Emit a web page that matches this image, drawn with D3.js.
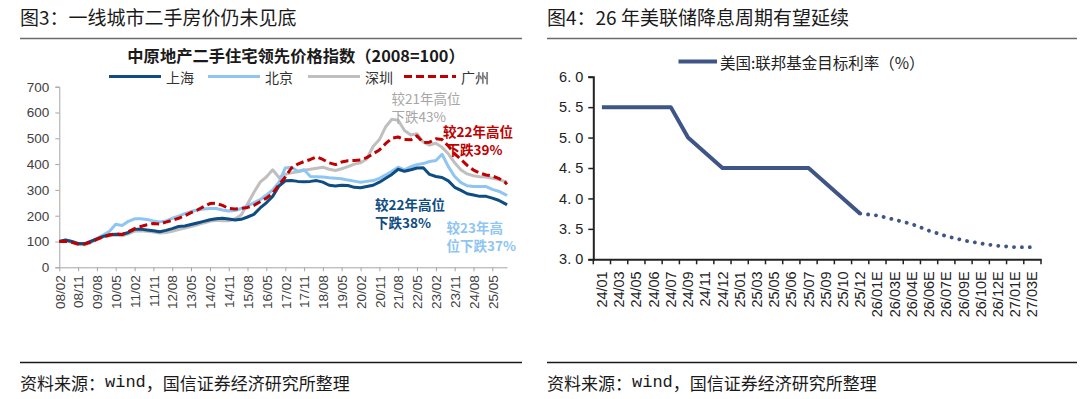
<!DOCTYPE html>
<html>
<head>
<meta charset="utf-8">
<script src="https://cdn.jsdelivr.net/npm/d3@7"></script>
<style>
body { margin: 0; background: #fff; }
svg { display: block; font-family: "Noto Sans CJK SC", "Noto Sans", sans-serif; }
</style>
</head>
<body>
<svg id="chart" width="1080" height="399"></svg>
<script>
// ---- left chart: 中原地产二手住宅领先价格指数 (quarterly readings) ----
var months = [
  "08/02","08/05","08/08","08/11","09/02","09/05","09/08","09/11",
  "10/02","10/05","10/08","10/11","11/02","11/05","11/08","11/11",
  "12/02","12/05","12/08","12/11","13/02","13/05","13/08","13/11",
  "14/02","14/05","14/08","14/11","15/02","15/05","15/08","15/11",
  "16/02","16/05","16/08","16/11","17/02","17/05","17/08","17/11",
  "18/02","18/05","18/08","18/11","19/02","19/05","19/08","19/11",
  "20/02","20/05","20/08","20/11","21/02","21/05","21/08","21/11",
  "22/02","22/05","22/08","22/11","23/02","23/05","23/08","23/11",
  "24/02","24/05","24/08","24/11","25/02","25/05","25/08","25/11","25/12"];

var shanghai = [100,106,100,92, 91,100,110,120, 126,128,127,135, 147,148,145,142,
  138,143,150,158, 160,166,172,178, 184,188,190,187, 183,186,195,205,
  230,250,275,315, 335,336,333,332, 333,336,330,318, 315,318,317,310,
  308,313,318,330, 345,360,380,372, 378,385,386,360, 352,348,335,310,
  298,285,280,275, 275,268,260,247,242];

var beijing = [100,105,100,93, 92,100,112,125, 140,167,162,178, 188,188,185,180,
  176,180,190,198, 208,216,222,226, 228,228,222,218, 220,228,238,250,
  262,280,300,330, 385,388,372,378, 352,351,350,347, 345,343,338,334,
  330,333,336,345, 358,372,388,378, 390,398,402,410, 414,438,390,352,
  328,316,313,313, 313,302,295,283,278];

var shenzhen = [100,103,97,88, 87,95,108,118, 122,125,122,130, 140,142,140,137,
  133,135,140,146, 152,158,165,172, 178,182,180,180, 188,203,245,290,
  330,350,378,348, 360,366,370,376, 380,384,388,380, 375,382,390,400,
  405,420,468,495, 545,574,570,530, 513,518,485,474, 481,465,440,405,
  377,362,355,351, 350,345,340,333,330];

var guangzhou = [100,101,97,90, 90,98,108,118, 125,130,127,138, 150,158,165,170,
  168,175,182,190, 200,212,222,235, 247,248,240,228, 226,228,232,240,
  254,268,287,320, 350,385,400,410, 418,428,418,405, 398,408,413,414,
  416,425,440,455, 480,500,505,495, 494,510,483,485, 498,495,470,440,
  418,395,377,365, 358,354,345,330,322];

var monthTicks = ["08/02","08/11","09/08","10/05","11/02","11/11","12/08","13/05",
  "14/02","14/11","15/08","16/05","17/02","17/11","18/08","19/05","20/02","20/11",
  "21/08","22/05","23/02","23/11","24/08","25/05"];
var indexTicks = [0, 100, 200, 300, 400, 500, 600, 700];

// ---- right chart: 美国:联邦基金目标利率 ----
var fedMonths = ["24/01","24/03","24/05","24/06","24/07","24/09","24/11","24/12",
  "25/01","25/03","25/05","25/06","25/07","25/09","25/10","25/12",
  "26/01E","26/03E","26/04E","26/06E","26/07E","26/09E","26/10E","26/12E","27/01E","27/03E"];
var fedActual = [5.5,5.5,5.5,5.5,5.5,5.0,4.75,4.5, 4.5,4.5,4.5,4.5,4.5,4.25,4.0,3.75];
var fedForecast = [3.72,3.65,3.58,3.47,3.38,3.31,3.26,3.22,3.2,3.2];
var rateTicks = [3.0, 3.5, 4.0, 4.5, 5.0, 5.5, 6.0];

var svg = d3.select("#chart");

// ---- titles, rules, sources ----
function panelFrame(x0, x1, title) {
    svg.append("text")
        .attr("x", x0).attr("y", 16)
        .attr("dominant-baseline", "central")
        .style("font-size", "19px").style("fill", "#1a1a1a")
        .text(title);
    svg.append("line")
        .attr("x1", x0).attr("x2", x1).attr("y1", 38.5).attr("y2", 38.5)
        .style("stroke", "#6b6b6b").style("stroke-width", 1.5);
    svg.append("line")
        .attr("x1", x0).attr("x2", x1).attr("y1", 362.5).attr("y2", 362.5)
        .style("stroke", "#1a1a1a").style("stroke-width", 1.5);
    var src = svg.append("text")
        .attr("x", x0).attr("y", 382)
        .attr("dominant-baseline", "central")
        .style("font-size", "17px").style("fill", "#1a1a1a");
    src.append("tspan").text("资料来源：");
    src.append("tspan").style("font-family", "'Liberation Mono', monospace").text("wind");
    src.append("tspan").text("，国信证券经济研究所整理");
}
panelFrame(20, 522, "图3：一线城市二手房价仍未见底");
panelFrame(547, 1077, "图4：26 年美联储降息周期有望延续");

// ---- left chart ----
var parse = d3.timeParse("%y/%m");
var x = d3.scaleTime()
    .domain([parse(months[0]), parse(months[months.length - 1])])
    .range([59.3, 507]);
var y = d3.scaleLinear().domain([0, 700]).range([267.3, 86.7]);

svg.append("text")
    .attr("x", 296).attr("y", 55)
    .attr("text-anchor", "middle").attr("dominant-baseline", "central")
    .style("font-size", "16.3px").style("font-weight", "bold").style("fill", "#1a1a1a")
    .text("中原地产二手住宅领先价格指数（2008=100）");

var yAxisL = svg.append("g")
    .attr("transform", "translate(59.3,0)")
    .call(d3.axisLeft(y).tickValues(indexTicks).tickSize(4).tickPadding(6));
var xAxisL = svg.append("g")
    .attr("transform", "translate(0,267.3)")
    .call(d3.axisBottom(x).tickValues(monthTicks.map(parse))
        .tickFormat(d3.timeFormat("%y/%m")).tickSize(4).tickSizeOuter(0));
xAxisL.selectAll("text")
    .attr("transform", "rotate(-90)")
    .attr("text-anchor", "end")
    .attr("x", -8).attr("y", 0).attr("dy", "0.35em");
[yAxisL, xAxisL].forEach(function(g) {
    g.select(".domain").style("stroke", "#a6a6a6");
    g.selectAll(".tick line").style("stroke", "#a6a6a6");
    g.selectAll("text").style("font-size", "13.5px").style("fill", "#404040")
        .style("font-family", "'Liberation Sans', Arial, sans-serif");
});

var cityLine = d3.line()
    .x(function(d, i) { return x(parse(months[i])); })
    .y(function(d) { return y(d); });

var cities = [
    {name: "上海", values: shanghai, color: "#0f4c81", dash: null},
    {name: "北京", values: beijing, color: "#8fc5f2", dash: null},
    {name: "深圳", values: shenzhen, color: "#bfbfbf", dash: null},
    {name: "广州", values: guangzhou, color: "#c00000", dash: "8,4"}
];
var drawOrder = [2, 1, 0, 3];
drawOrder.forEach(function(k) {
    var c = cities[k];
    svg.append("path")
        .datum(c.values)
        .attr("d", cityLine)
        .style("fill", "none")
        .style("stroke", c.color)
        .style("stroke-width", 3)
        .style("stroke-linejoin", "round")
        .style("stroke-dasharray", c.dash);
});

// legend
var legendX = [109, 208, 308, 404];
cities.forEach(function(c, i) {
    svg.append("line")
        .attr("x1", legendX[i]).attr("x2", legendX[i] + 52)
        .attr("y1", 76.5).attr("y2", 76.5)
        .style("stroke", c.color).style("stroke-width", 3)
        .style("stroke-dasharray", c.dash);
    svg.append("text")
        .attr("x", legendX[i] + 57).attr("y", 76.5)
        .attr("dominant-baseline", "central")
        .style("font-size", "14px").style("fill", "#333")
        .text(c.name);
});

// annotations
var notes = [
    {lines: ["较21年高位", "下跌43%"], x: [391.5, 391.5], y: [98, 116], color: "#a6a6a6", weight: "normal"},
    {lines: ["较22年高位", "下跌39%"], x: [443, 446.5], y: [130.5, 148.5], color: "#c00000", weight: "bold"},
    {lines: ["较22年高位", "下跌38%"], x: [375, 375], y: [203.5, 221.5], color: "#0f4c81", weight: "bold"},
    {lines: ["较23年高", "位下跌37%"], x: [446.5, 446.5], y: [227, 245], color: "#8fc5f2", weight: "bold"}
];
notes.forEach(function(n) {
    n.lines.forEach(function(t, i) {
        svg.append("text")
            .attr("x", n.x[i]).attr("y", n.y[i])
            .attr("dominant-baseline", "central")
            .style("font-size", "13.5px").style("font-weight", n.weight)
            .style("fill", n.color)
            .text(t);
    });
});

// ---- right chart ----
var xr = d3.scaleBand().domain(fedMonths).range([593.3, 1041]);
var yr = d3.scaleLinear().domain([3, 6]).range([259.3, 76.7]);
var bw = xr.bandwidth();
var fedColor = "#3e5586";

var yAxisR = svg.append("g")
    .attr("transform", "translate(593.3,0)")
    .call(d3.axisLeft(yr).tickValues(rateTicks).tickSize(5).tickPadding(5)
        .tickFormat(function(d) { return d.toFixed(1).replace(".", ". "); }));
var xAxisR = svg.append("g")
    .attr("transform", "translate(0,259.3)")
    .call(d3.axisBottom(xr).tickSize(0).tickPadding(0));
xAxisR.selectAll("text")
    .attr("transform", "rotate(-90)")
    .attr("text-anchor", "end")
    .attr("x", -12).attr("y", 0).attr("dy", "0.35em");
xAxisR.selectAll(".edge")
    .data(fedMonths.concat(["end"]))
    .enter()
    .append("line")
    .attr("class", "edge")
    .attr("x1", function(d, i) { return i < fedMonths.length ? xr(d) : xr(fedMonths[fedMonths.length - 1]) + bw; })
    .attr("x2", function(d, i) { return i < fedMonths.length ? xr(d) : xr(fedMonths[fedMonths.length - 1]) + bw; })
    .attr("y1", 0).attr("y2", 5)
    .style("stroke", "#222").style("stroke-width", 1.5);
[yAxisR, xAxisR].forEach(function(g) {
    g.select(".domain").style("stroke", "#222").style("stroke-width", 2);
    g.selectAll(".tick line").style("stroke", "#222").style("stroke-width", 1.5);
    g.selectAll("text").style("font-size", "14.5px").style("fill", "#222")
        .style("font-family", "'Liberation Sans', Arial, sans-serif");
});

var fedLine = d3.line()
    .x(function(d) { return xr(d.m) + bw / 2; })
    .y(function(d) { return yr(d.v); });

var actualPts = fedActual.map(function(v, i) { return {m: fedMonths[i], v: v}; });
var forecastPts = [actualPts[actualPts.length - 1]].concat(
    fedForecast.map(function(v, i) { return {m: fedMonths[fedActual.length + i], v: v}; }));

svg.append("path")
    .datum(actualPts)
    .attr("d", fedLine)
    .style("fill", "none").style("stroke", fedColor)
    .style("stroke-width", 4).style("stroke-linejoin", "round");
svg.append("path")
    .datum(forecastPts)
    .attr("d", fedLine)
    .style("fill", "none").style("stroke", fedColor)
    .style("stroke-width", 3.8).style("stroke-linecap", "round")
    .style("stroke-dasharray", "0.1,7.8");

svg.append("line")
    .attr("x1", 678.5).attr("x2", 717).attr("y1", 61.5).attr("y2", 61.5)
    .style("stroke", fedColor).style("stroke-width", 4);
svg.append("text")
    .attr("x", 720).attr("y", 61.5)
    .attr("dominant-baseline", "central")
    .style("font-size", "15.5px").style("fill", "#222")
    .text("美国:联邦基金目标利率（%）");
</script>
</body>
</html>
